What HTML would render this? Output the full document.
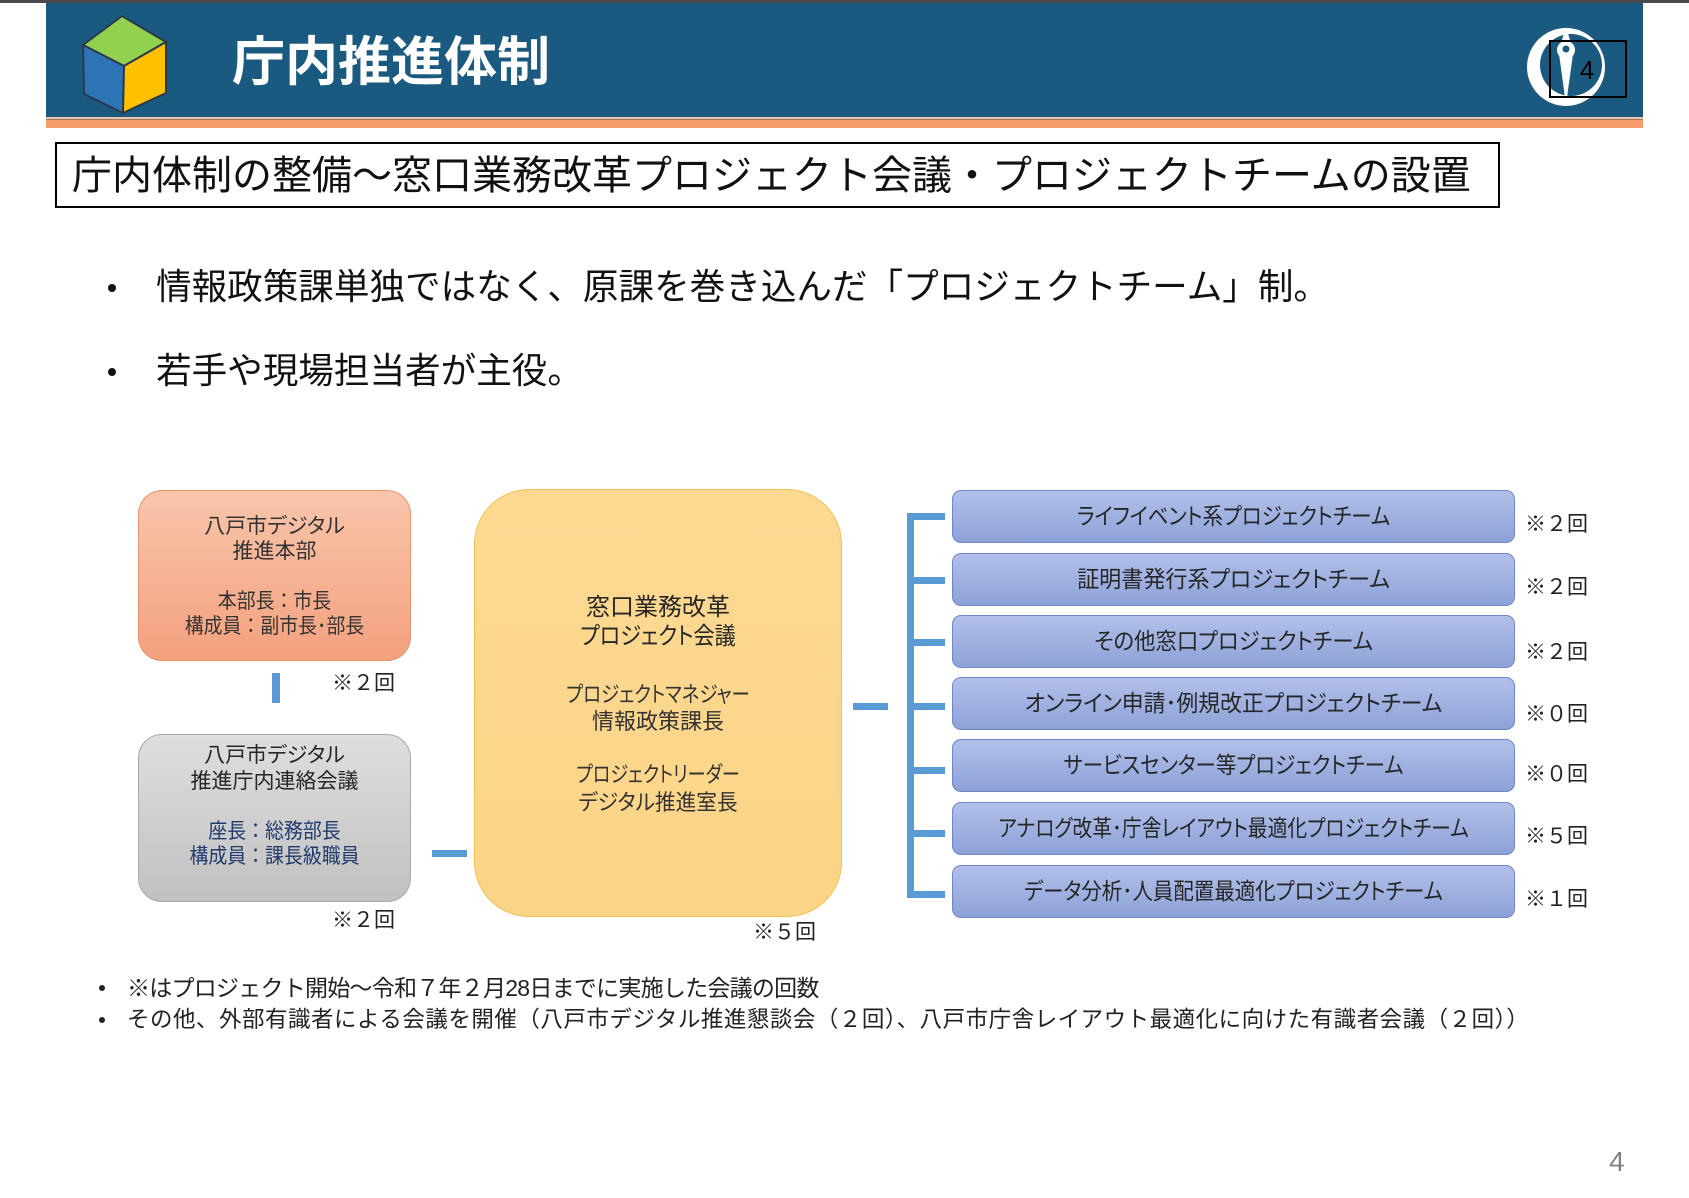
<!DOCTYPE html>
<html><head><meta charset="utf-8">
<style>
*{margin:0;padding:0;box-sizing:border-box}
body{width:1689px;height:1198px;background:#fff;position:relative;overflow:hidden;font-family:"Liberation Sans","Noto Sans CJK JP",sans-serif;color:#222}
.a{position:absolute}
.t{position:absolute;white-space:nowrap;line-height:1}
.c{position:absolute;white-space:nowrap;line-height:1;text-align:center}
.p{font-feature-settings:"palt"}
.blue{position:absolute;left:952px;width:563px;height:53px;border-radius:9px;border:1.5px solid #6f87c6;background:linear-gradient(#b2c0e9,#8da2d8)}
.bt{position:absolute;left:952px;width:563px;text-align:center;white-space:nowrap;line-height:1;font-size:23px;color:#262626;font-feature-settings:"palt";transform-origin:center center}
.cn{position:absolute;background:#5b9bd5}
.cnt{position:absolute;left:1525px;font-size:21px;line-height:1;white-space:nowrap;color:#222}
</style></head><body>

<!-- top dark line -->
<div class="a" style="left:0;top:0;width:1689px;height:3px;background:#4a4a4a"></div>
<!-- header -->
<div class="a" style="left:46px;top:3px;width:1597px;height:114px;background:#1b5a80"></div>
<div class="a" style="left:46px;top:117px;width:1597px;height:2px;background:#efc2aa"></div>
<div class="a" style="left:46px;top:119px;width:1597px;height:1px;background:#9a7a6a"></div>
<div class="a" style="left:46px;top:120px;width:1597px;height:8px;background:#f69d6c"></div>

<!-- cube -->
<svg class="a" style="left:0;top:0" width="200" height="130">
  <polygon points="122,16 166,42 124,66 83,45" fill="#92d050" stroke="#2b3a4a" stroke-width="2"/>
  <polygon points="83,45 124,66 123,113 84,94" fill="#2e75b6" stroke="#2b3a4a" stroke-width="2"/>
  <polygon points="124,66 166,42 166,93 123,113" fill="#ffc000" stroke="#2b3a4a" stroke-width="2"/>
</svg>

<div class="t" style="left:232px;top:36px;font-size:53px;font-weight:bold;color:#fff">庁内推進体制</div>

<!-- emblem -->
<svg class="a" style="left:1500px;top:0" width="189" height="130">
  <circle cx="66" cy="67" r="39" fill="#fff"/>
  <circle cx="71" cy="65" r="31" fill="#1b5a80"/>
  <polygon points="62,40 70,40 66,27" fill="#fff"/>
  <circle cx="66" cy="50" r="9" fill="#fff"/>
  <circle cx="66" cy="49" r="3.5" fill="#1b5a80"/>
  <polygon points="59,54 73,54 68,90 66,107 64,90" fill="#fff"/>
  <rect x="50" y="41" width="76" height="56" fill="none" stroke="#000" stroke-width="2"/>
  <text x="87" y="79" font-size="26" font-family="Liberation Sans, sans-serif" fill="#000" text-anchor="middle">4</text>
</svg>

<!-- subtitle -->
<div class="a" style="left:55px;top:142px;width:1445px;height:66px;border:2px solid #000"></div>
<div class="t" style="left:72px;top:156px;font-size:40px;color:#111">庁内体制の整備～窓口業務改革プロジェクト会議・プロジェクトチームの設置</div>

<!-- bullets -->
<div class="a" style="left:108px;top:284px;width:8px;height:8px;border-radius:50%;background:#111"></div>
<div class="t" style="left:156px;top:270px;font-size:35.6px;color:#111">情報政策課単独ではなく、原課を巻き込んだ「プロジェクトチーム」制。</div>
<div class="a" style="left:108px;top:368px;width:8px;height:8px;border-radius:50%;background:#111"></div>
<div class="t" style="left:156px;top:354px;font-size:35.6px;color:#111">若手や現場担当者が主役。</div>

<!-- orange box -->
<div class="a" style="left:138px;top:490px;width:273px;height:171px;border-radius:24px;border:1.5px solid #e8936c;background:linear-gradient(#f8c5ab,#f4a17e)"></div>
<div class="c p" style="left:138px;width:273px;top:516px;font-size:21px;color:#333">八戸市デジタル</div>
<div class="c p" style="left:138px;width:273px;top:541px;font-size:21px;color:#333">推進本部</div>
<div class="c" style="left:138px;width:273px;top:591px;font-size:21px;color:#333;transform:scaleX(0.9)">本部長：市長</div>
<div class="c" style="left:138px;width:273px;top:616px;font-size:21px;color:#333;transform:scaleX(0.9)">構成員：副市長･部長</div>

<div class="cn" style="left:272px;top:673px;width:8px;height:30px"></div>
<div class="t" style="left:332px;top:673px;font-size:21px">※２回</div>

<!-- gray box -->
<div class="a" style="left:138px;top:734px;width:273px;height:168px;border-radius:24px;border:1.5px solid #a8a8a8;background:linear-gradient(#dedede,#c1c1c1)"></div>
<div class="c p" style="left:138px;width:273px;top:745px;font-size:21px;color:#262626">八戸市デジタル</div>
<div class="c p" style="left:138px;width:273px;top:771px;font-size:21px;color:#262626">推進庁内連絡会議</div>
<div class="c" style="left:138px;width:273px;top:821px;font-size:21px;color:#1f3a6e;transform:scaleX(0.9)">座長：総務部長</div>
<div class="c" style="left:138px;width:273px;top:846px;font-size:21px;color:#1f3a6e;transform:scaleX(0.9)">構成員：課長級職員</div>
<div class="t" style="left:332px;top:910px;font-size:21px">※２回</div>

<div class="cn" style="left:432px;top:850px;width:35px;height:7px"></div>

<!-- yellow box -->
<div class="a" style="left:474px;top:489px;width:368px;height:428px;border-radius:55px;border:1.5px solid #efc152;background:linear-gradient(#fdd993,#fcd486)"></div>
<div class="c p" style="left:474px;width:368px;top:596px;font-size:24px;color:#262626">窓口業務改革</div>
<div class="c p" style="left:474px;width:368px;top:625px;font-size:24px;color:#262626;transform:scaleX(0.88)">プロジェクト会議</div>
<div class="c p" style="left:474px;width:368px;top:684px;font-size:22px;color:#333;transform:scaleX(0.84)">プロジェクトマネジャー</div>
<div class="c p" style="left:474px;width:368px;top:711px;font-size:22px;color:#333">情報政策課長</div>
<div class="c p" style="left:474px;width:368px;top:764px;font-size:22px;color:#333;transform:scaleX(0.82)">プロジェクトリーダー</div>
<div class="c p" style="left:474px;width:368px;top:792px;font-size:22px;color:#333;transform:scaleX(0.94)">デジタル推進室長</div>
<div class="t" style="left:753px;top:922px;font-size:21px">※５回</div>

<!-- connectors -->
<div class="cn" style="left:853px;top:703px;width:35px;height:7px"></div>
<div class="cn" style="left:907px;top:513px;width:7px;height:385px"></div>
<div class="cn" style="left:907px;top:513px;width:38px;height:7px"></div>
<div class="cn" style="left:907px;top:577px;width:38px;height:7px"></div>
<div class="cn" style="left:907px;top:639px;width:38px;height:7px"></div>
<div class="cn" style="left:907px;top:703px;width:38px;height:7px"></div>
<div class="cn" style="left:907px;top:767px;width:38px;height:7px"></div>
<div class="cn" style="left:907px;top:830px;width:38px;height:7px"></div>
<div class="cn" style="left:907px;top:891px;width:38px;height:7px"></div>

<!-- blue boxes -->
<div class="blue" style="top:490px"></div>
<div class="blue" style="top:553px"></div>
<div class="blue" style="top:615px"></div>
<div class="blue" style="top:677px"></div>
<div class="blue" style="top:739px"></div>
<div class="blue" style="top:802px"></div>
<div class="blue" style="top:865px"></div>

<div class="bt" style="top:505px;transform:scaleX(0.89)">ライフイベント系プロジェクトチーム</div>
<div class="bt" style="top:568px;transform:scaleX(0.96)">証明書発行系プロジェクトチーム</div>
<div class="bt" style="top:630px;transform:scaleX(0.93)">その他窓口プロジェクトチーム</div>
<div class="bt" style="top:692px;transform:scaleX(0.95)">オンライン申請･例規改正プロジェクトチーム</div>
<div class="bt" style="top:754px;transform:scaleX(0.89)">サービスセンター等プロジェクトチーム</div>
<div class="bt" style="top:817px;transform:scaleX(0.86)">アナログ改革･庁舎レイアウト最適化プロジェクトチーム</div>
<div class="bt" style="top:880px;transform:scaleX(0.89)">データ分析･人員配置最適化プロジェクトチーム</div>

<div class="cnt" style="top:514px">※２回</div>
<div class="cnt" style="top:577px">※２回</div>
<div class="cnt" style="top:642px">※２回</div>
<div class="cnt" style="top:704px">※０回</div>
<div class="cnt" style="top:764px">※０回</div>
<div class="cnt" style="top:826px">※５回</div>
<div class="cnt" style="top:889px">※１回</div>

<!-- footer notes -->
<div class="a" style="left:99px;top:985px;width:6px;height:6px;border-radius:50%;background:#222"></div>
<div class="t" style="left:127px;top:977px;font-size:23px;color:#222;letter-spacing:-0.75px">※はプロジェクト開始～令和７年２月28日までに実施した会議の回数</div>
<div class="a" style="left:99px;top:1017px;width:6px;height:6px;border-radius:50%;background:#222"></div>
<div class="t" style="left:127px;top:1009px;font-size:22.5px;color:#222;letter-spacing:0.5px">その他、外部有識者による会議を開催（八戸市デジタル推進懇談会（２回）、八戸市庁舎レイアウト最適化に向けた有識者会議（２回））</div>

<!-- page number -->
<div class="t" style="left:1609px;top:1148px;font-size:28px;color:#808080">4</div>

</body></html>
